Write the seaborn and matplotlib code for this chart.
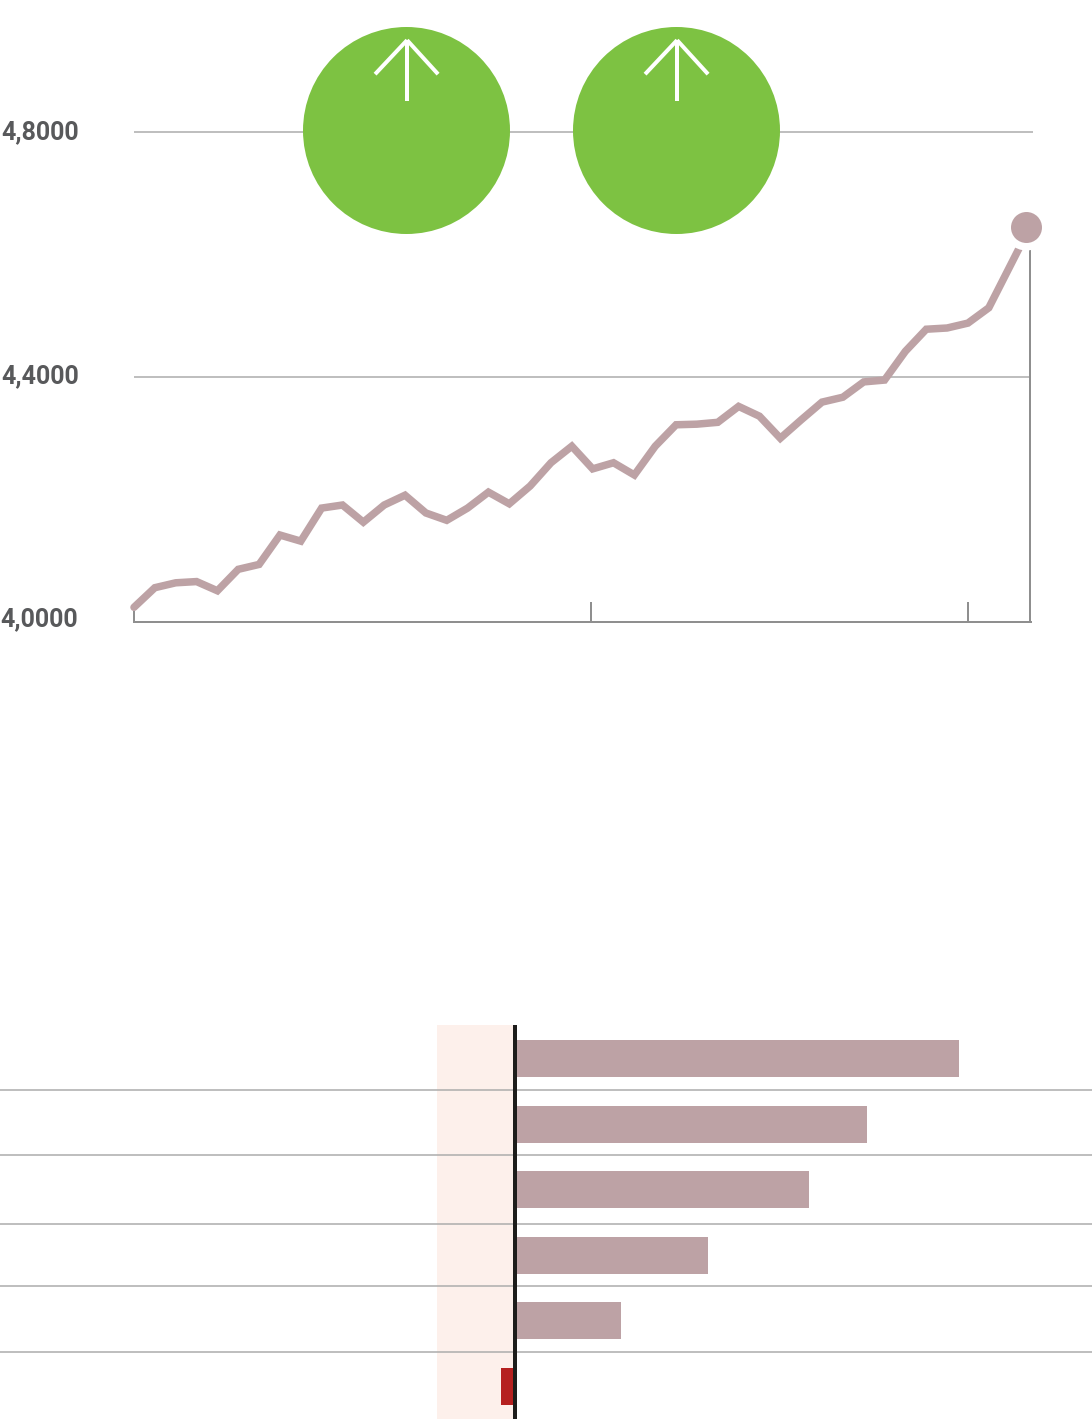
import matplotlib
matplotlib.use("Agg")
import matplotlib.pyplot as plt
import matplotlib.transforms as mtrans
from matplotlib.path import Path
from matplotlib.patches import PathPatch
import seaborn as sns
import pandas as pd

# ---- data -------------------------------------------------------------
line_x = [0, 1, 2, 3, 4, 5, 6, 7, 8, 9, 10, 11, 12, 13, 14, 15, 16, 17, 18, 19, 20,
          21, 22, 23, 24, 25, 26, 27, 28, 29, 30, 31, 32, 33, 34, 35, 36, 37, 38,
          39, 40, 41, 42.78]
line_y = [4.024, 4.056, 4.064, 4.066, 4.051, 4.086, 4.094, 4.142, 4.132, 4.186,
          4.191, 4.163, 4.191, 4.207, 4.178, 4.166, 4.186, 4.212, 4.193, 4.222,
          4.260, 4.287, 4.250, 4.260, 4.240, 4.287, 4.322, 4.323, 4.326, 4.352,
          4.336, 4.300, 4.330, 4.359, 4.367, 4.392, 4.395, 4.442, 4.478, 4.480,
          4.488, 4.513, 4.632]
end_x = [42.78]
end_y = [4.645]
y_ticks = [4.0, 4.4, 4.8]
y_labels = ["4,0000", "4,4000", "4,8000"]
x_ticks = [21.92, 40.0]
right_edge = 42.97
badge_x = [13.05, 26]
badge_y = [4.803, 4.803]

categories = ["A", "B", "C", "D", "E", "F"]
bar_values = [4.44, 3.52, 2.94, 1.93, 1.06, -0.14]
bar_colors = ["#BDA2A5"] * 5 + ["#B5201F"]
separators = [0.48, 1.471, 2.523, 3.468, 4.474]
band = [-0.78, 0]

# ---- style ------------------------------------------------------------
sns.set_style("white")
plt.rcParams["font.family"] = ["Roboto", "DejaVu Sans"]
W, H = 1092, 1426
PT = 0.72  # points per pixel at dpi 100
LINE = "#BDA2A5"
GRID = "#ABABAB"
AXIS = "#8F8F8F"
GREEN = "#7DC242"

fig = plt.figure(figsize=(W / 100, H / 100), dpi=100, facecolor="white")

# ---- top line chart ---------------------------------------------------
top_px, bottom_px, left_px, right_px = 100, 622, 134, 1033
ax = fig.add_axes([left_px / W, 1 - bottom_px / H, (right_px - left_px) / W, (bottom_px - top_px) / H])
ax.set_xlim(0, 43.12)
ax.set_ylim(4.0, 4.0 + (bottom_px - top_px) * 0.8 / 490)
ax.patch.set_alpha(0)
for s in ["top", "left", "right"]:
    ax.spines[s].set_visible(False)
ax.spines["bottom"].set_color(AXIS)
ax.spines["bottom"].set_linewidth(2 * PT)
ax.spines["bottom"].set_bounds(0, right_edge + 0.05)

ax.hlines(4.8, 0, 43.12, color=GRID, lw=1.5 * PT, zorder=1, clip_on=False)
ax.hlines(4.4, 0, right_edge, color=GRID, lw=1.5 * PT, zorder=1)
ax.vlines(right_edge, 4.0, 4.65, color=AXIS, lw=2 * PT, zorder=1)

ax.set_xticks(x_ticks, labels=[])
ax.set_xticks([0], labels=[""], minor=True)
ax.tick_params(axis="x", which="major", direction="in", length=20 * PT, width=2 * PT, color=AXIS,
               bottom=True)
ax.tick_params(axis="x", which="minor", direction="in", length=11 * PT, width=2 * PT, color=AXIS,
               bottom=True)
ax.set_yticks(y_ticks, labels=y_labels)
ax.tick_params(axis="y", length=0, pad=56 * PT, labelsize=18, labelcolor="#58595B")
offsets = [5, 3, 2]
shifts = [0, 1, 1]
for lab, dy, dx in zip(ax.get_yticklabels(), offsets, shifts):
    lab.set_fontweight("bold")
    lab.set_transform(lab.get_transform() + mtrans.ScaledTranslation(dx / 100, dy / 100, fig.dpi_scale_trans))

df = pd.DataFrame({"x": line_x, "y": line_y})
sns.lineplot(data=df, x="x", y="y", ax=ax, color=LINE, lw=7.5 * PT, estimator=None, sort=False,
             solid_joinstyle="miter", solid_capstyle="round", zorder=3, clip_on=False)
ax.set_xlabel("")
ax.set_ylabel("")

# white halo and end dot
ax.scatter(end_x, end_y, s=(46 * PT) ** 2, color="white", linewidth=0, zorder=4, clip_on=False)
ax.scatter(end_x, end_y, s=(31 * PT) ** 2, color=LINE, linewidth=0, zorder=5, clip_on=False)

# green badges with white up arrows (strokes in points from each badge centre)
ax.scatter(badge_x, badge_y, s=(207 * PT) ** 2, color=GREEN, linewidth=0, zorder=6, clip_on=False)
tip = (1 * PT, 90 * PT)
strokes = [(1 * PT, 29 * PT), (-31 * PT, 56 * PT), (32 * PT, 56 * PT)]
for bx, by in zip(badge_x, badge_y):
    for start in strokes:
        tr = mtrans.Affine2D().scale(fig.dpi / 72) + mtrans.Affine2D().translate(*ax.transData.transform((bx, by)))
        ax.add_patch(PathPatch(Path([start, tip]), transform=tr, edgecolor="white", lw=4 * PT, fill=False,
                               zorder=7, capstyle="butt", clip_on=False))

# ---- bottom bar chart -------------------------------------------------
b_top, b_bottom = 1025, 1419
ax2 = fig.add_axes([0, 1 - b_bottom / H, 1, (b_bottom - b_top) / H])
ax2.patch.set_alpha(0)
bdf = pd.DataFrame({"cat": categories, "val": bar_values})
sns.barplot(data=bdf, x="val", y="cat", hue="cat", palette=bar_colors, legend=False, orient="h",
            width=37 / 65.6, ax=ax2, linewidth=0, zorder=3, saturation=1)
ax2.set_xlim(-5.15, 5.77)
ax2.set_ylim(5.495, -0.51)
ax2.axvspan(band[0], band[1], color="#FDF0EB", lw=0, zorder=1)
for s in separators:
    ax2.axhline(s, color=GRID, lw=1.5 * PT, zorder=2)
ax2.axvline(0, color="#1D1D1B", lw=4 * PT, zorder=4)
ax2.set_xlabel("")
ax2.set_ylabel("")
ax2.set_xticks([])
ax2.set_yticks([])
for s in ax2.spines.values():
    s.set_visible(False)

fig.savefig("out.png", dpi=100, facecolor="white")
